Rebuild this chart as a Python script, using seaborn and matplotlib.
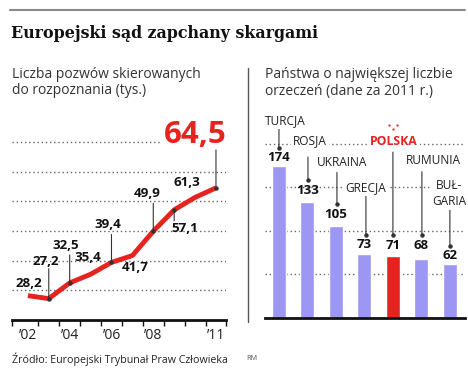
import matplotlib
matplotlib.use("Agg")
import matplotlib.pyplot as plt
import matplotlib.transforms as mtransforms
from matplotlib.lines import Line2D
import seaborn as sns
import pandas as pd

# ---------------- data ----------------
years = [2002, 2003, 2004, 2005, 2006, 2007, 2008, 2009, 2010, 2011]
cases = [28.2, 27.2, 32.5, 35.4, 39.4, 41.7, 49.9, 57.1, 61.3, 64.5]
tick_years = [2002, 2004, 2006, 2008, 2011]
tick_labels = ["\u201902", "\u201904", "\u201906", "\u201908", "\u201911"]

countries = ["TURCJA", "ROSJA", "UKRAINA", "GRECJA", "POLSKA", "RUMUNIA", "BUŁ-\nGARIA"]
judgments = [174, 133, 105, 73, 71, 68, 62]
highlight = "POLSKA"

title = "Europejski sąd zapchany skargami"
sub_left = ["Liczba pozwów skierowanych", "do rozpoznania (tys.)"]
sub_right = ["Państwa o największej liczbie", "orzeczeń (dane za 2011 r.)"]
source = "Źródło: Europejski Trybunał Praw Człowieka"
author = "RM"

# ---------------- style ----------------
RED = "#e5231f"
LAV = "#9b97f2"
INK = "#1e1e1e"
W, H = 468, 372

sns.set_theme(style="white")
plt.rcParams["font.family"] = ["Open Sans", "DejaVu Sans"]
plt.rcParams["text.color"] = INK

fig = plt.figure(figsize=(W / 100, H / 100), dpi=100)
fig.patch.set_facecolor("white")


def fx(px):
    return px / W


def fy(py):
    return 1 - py / H


# header
fig.add_artist(Line2D([fx(10), fx(465)], [fy(10), fy(10)], color="#8a8a8a", lw=1.5))
fig.text(fx(11), fy(33), title, family="DejaVu Serif", weight="bold",
         fontsize=11.4, va="center", ha="left", color="#111")
for i, s in enumerate(sub_left):
    fig.text(fx(12), fy(75 + 16 * i), s, fontsize=10, va="center", ha="left", color="#333")
for i, s in enumerate(sub_right):
    fig.text(fx(265), fy(75 + 16 * i), s, fontsize=10, va="center", ha="left", color="#333")

# divider
fig.add_artist(Line2D([fx(248), fx(248)], [fy(68), fy(322)], color="#555", lw=1.0))

# footer
fig.text(fx(12), fy(359), source, fontsize=7.7, va="center", ha="left", color="#222")
fig.text(fx(246), fy(359), author, fontsize=5.2, va="center", ha="left", color="#555")

# ---------------- left: line chart ----------------
axL = fig.add_axes([fx(12), 1 - 320 / H, 214 / W, 190 / H])
df_line = pd.DataFrame({"year": years, "cases": cases})
sns.lineplot(data=df_line, x="year", y="cases", ax=axL, color=RED, lw=3.5,
             solid_capstyle="butt", zorder=3)
axL.set_xlim(2001.24, 2011.48)
axL.set_ylim(20, 84)
axL.set_xlabel("")
axL.set_ylabel("")
axL.set_yticks([])
for s in ["left", "right", "top"]:
    axL.spines[s].set_visible(False)
axL.spines["bottom"].set_color("#111")
axL.spines["bottom"].set_linewidth(2)

bounds = [2001.24] + [y + 0.5 for y in years[:-1]] + [2011.48]
axL.set_xticks(bounds)
axL.tick_params(axis="x", which="major", length=4.5, width=1, color="#111",
                direction="out", labelbottom=False, bottom=True)
axL.set_xticks(tick_years, minor=True)
axL.set_xticklabels(tick_labels, minor=True)
axL.tick_params(axis="x", which="minor", length=0, pad=6, labelsize=10, labelcolor="#222")

for gv in [30, 40, 50, 60, 70]:
    axL.axhline(gv, color="#666", lw=1.0, ls=(0, (1, 2)), zorder=1)
axL.axhline(80, xmin=0, xmax=0.69, color="#666", lw=1.0, ls=(0, (1, 2)), zorder=1)

# label placement (pixel offsets from each point) and leader lengths
lab_off = [(1, 12), (-3, 37), (-4, 37), (-3, 17), (-4, 38),
           (3, -12), (-6, 38), (11, -19), (-8, 15), (-21, 53)]
leader = [0, 30, 28, 0, 28, 0, 28, -11, 0, 38]
for yr, v, (dx, dy), L in zip(years, cases, lab_off, leader):
    txt = f"{v:.1f}".replace(".", ",")
    big = yr == years[-1]
    axL.annotate(txt, xy=(yr, v), xytext=(dx, dy), textcoords="offset pixels",
                 ha="center", va="center", weight="bold",
                 fontsize=22.5 if big else 9.6, color=RED if big else "#111", zorder=5)
    if L:
        axL.annotate("", xy=(yr, v), xytext=(0, L), textcoords="offset pixels",
                     arrowprops=dict(arrowstyle="-", color="#333", lw=0.8,
                                     shrinkA=0, shrinkB=0), zorder=4)
        axL.plot([yr], [v], "o", ms=2.2, color="#333", zorder=4)

# ---------------- right: bar chart ----------------
axR = fig.add_axes([fx(265), 1 - 318 / H, 200 / W, 218 / H])
df_bar = pd.DataFrame({"country": countries, "n": judgments})
pal = {c: (RED if c == highlight else LAV) for c in countries}
sns.barplot(data=df_bar, x="country", y="n", hue="country", palette=pal,
            legend=False, width=0.49, ax=axR, saturation=1, zorder=2)
axR.set_xlim(-0.49, 6.53)
axR.set_ylim(0, 250)
axR.set_xlabel("")
axR.set_ylabel("")
axR.set_xticks([])
axR.set_yticks([])
for s in ["left", "right", "top"]:
    axR.spines[s].set_visible(False)
axR.spines["bottom"].set_color("#111")
axR.spines["bottom"].set_linewidth(2)
axR.spines["bottom"].set_zorder(6)
for gv in [50, 100, 150, 200]:
    axR.axhline(gv, color="#666", lw=1.0, ls=(0, (1, 2)), zorder=1)

# name label offsets, leader x offset, leader start/end (pixels from bar top)
name_off = [(6, 46), (2.5, 61), (6, 64), (1.5, 67), (1, 115), (11.5, 98), (-1, 70)]
lead = [(0, 18, 39), (0.5, 22, 45), (1, 22, 54), (1.5, 19, 59), (0, 21, 104),
        (0.5, 24, 87), (0, 18, 56)]
val_off = [9, 12, 12, 10, 11, 13, 8]
for i, (c, v) in enumerate(zip(countries, judgments)):
    axR.annotate(str(v), xy=(i, v), xytext=(0, val_off[i]), textcoords="offset pixels",
                 ha="center", va="center", weight="bold", fontsize=9.5, color="#111", zorder=5)
    dx, dy = name_off[i]
    is_hl = c == highlight
    axR.annotate(c, xy=(i, v), xytext=(dx, dy), textcoords="offset pixels",
                 ha="center", va="center", fontsize=8.6 if not is_hl else 8.8,
                 weight="bold" if is_hl else "normal", color=RED if is_hl else "#222",
                 linespacing=1.3, zorder=5, annotation_clip=False,
                 bbox=dict(boxstyle="square,pad=0.15", fc="white", ec="none"))
    lx, y0, y1 = lead[i]
    tr = mtransforms.offset_copy(axR.transData, fig=fig, x=lx, y=y0, units="dots")
    axR.annotate("", xy=(i, v), xycoords=tr, xytext=(0, y1 - y0), textcoords="offset pixels",
                 arrowprops=dict(arrowstyle="-", color="#333", lw=0.8, shrinkA=0, shrinkB=0),
                 zorder=4, annotation_clip=False)
    axR.plot([i], [v], "o", ms=2.2, color="#333", transform=tr, zorder=4, clip_on=False)

# small red ornament above POLSKA
fig.add_artist(Line2D([fx(389), fx(397), fx(393)], [fy(125), fy(125), fy(129)],
                      ls="none", marker="o", ms=1.6, color=RED, mec="none"))

fig.savefig("out.png", dpi=100, facecolor="white")
